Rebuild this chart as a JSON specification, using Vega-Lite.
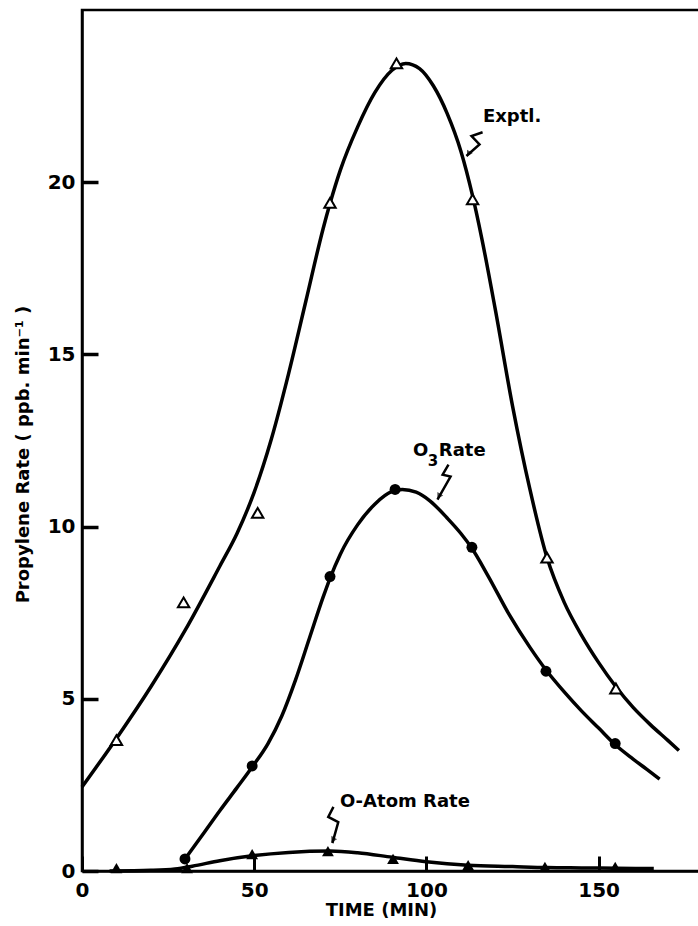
{
  "$schema": "https://vega.github.io/schema/vega-lite/v6.json",
  "width": 620,
  "height": 861,
  "autosize": {"type": "none"},
  "padding": {"left": 82, "top": 10, "right": 0, "bottom": 55},
  "background": "white",
  "config": {
    "view": {"stroke": "black", "strokeWidth": 2.5},
    "font": "DejaVu Sans",
    "axis": {
      "grid": false,
      "domainColor": "black",
      "domainWidth": 2.5,
      "tickColor": "black",
      "tickWidth": 3,
      "labelFont": "DejaVu Sans",
      "labelFontWeight": "bold",
      "labelFontSize": 20,
      "labelColor": "black",
      "labelFlush": false,
      "labelOverlap": false,
      "titleFont": "DejaVu Sans",
      "titleFontWeight": "bold",
      "titleColor": "black"
    }
  },
  "datasets": {
    "curves": [
      {"series": "Exptl", "time": 0, "rate": 2.44},
      {"series": "Exptl", "time": 10, "rate": 3.85},
      {"series": "Exptl", "time": 20, "rate": 5.35},
      {"series": "Exptl", "time": 30, "rate": 7.0},
      {"series": "Exptl", "time": 40, "rate": 8.85},
      {"series": "Exptl", "time": 45, "rate": 9.8},
      {"series": "Exptl", "time": 50, "rate": 11.0},
      {"series": "Exptl", "time": 55, "rate": 12.55},
      {"series": "Exptl", "time": 60, "rate": 14.45},
      {"series": "Exptl", "time": 65, "rate": 16.55},
      {"series": "Exptl", "time": 70, "rate": 18.65},
      {"series": "Exptl", "time": 72, "rate": 19.38},
      {"series": "Exptl", "time": 75, "rate": 20.35},
      {"series": "Exptl", "time": 80, "rate": 21.6},
      {"series": "Exptl", "time": 85, "rate": 22.6},
      {"series": "Exptl", "time": 90, "rate": 23.25},
      {"series": "Exptl", "time": 94, "rate": 23.45},
      {"series": "Exptl", "time": 98, "rate": 23.3},
      {"series": "Exptl", "time": 102, "rate": 22.8},
      {"series": "Exptl", "time": 106, "rate": 22.0},
      {"series": "Exptl", "time": 110, "rate": 20.9},
      {"series": "Exptl", "time": 113.4, "rate": 19.6},
      {"series": "Exptl", "time": 116, "rate": 18.4},
      {"series": "Exptl", "time": 120, "rate": 16.3},
      {"series": "Exptl", "time": 125, "rate": 13.5},
      {"series": "Exptl", "time": 130, "rate": 11.1},
      {"series": "Exptl", "time": 135, "rate": 9.1},
      {"series": "Exptl", "time": 140, "rate": 7.8},
      {"series": "Exptl", "time": 145, "rate": 6.85},
      {"series": "Exptl", "time": 150, "rate": 6.05},
      {"series": "Exptl", "time": 155, "rate": 5.35},
      {"series": "Exptl", "time": 160, "rate": 4.75},
      {"series": "Exptl", "time": 165, "rate": 4.25},
      {"series": "Exptl", "time": 170, "rate": 3.8},
      {"series": "Exptl", "time": 173.3, "rate": 3.5},
      {"series": "O3", "time": 29.9, "rate": 0.35},
      {"series": "O3", "time": 35, "rate": 1.05},
      {"series": "O3", "time": 40, "rate": 1.75},
      {"series": "O3", "time": 45, "rate": 2.42},
      {"series": "O3", "time": 49.4, "rate": 3.02},
      {"series": "O3", "time": 54, "rate": 3.7},
      {"series": "O3", "time": 58, "rate": 4.5},
      {"series": "O3", "time": 62, "rate": 5.55},
      {"series": "O3", "time": 66, "rate": 6.75},
      {"series": "O3", "time": 70, "rate": 7.95},
      {"series": "O3", "time": 72, "rate": 8.5},
      {"series": "O3", "time": 75, "rate": 9.2},
      {"series": "O3", "time": 80, "rate": 10.05},
      {"series": "O3", "time": 85, "rate": 10.65},
      {"series": "O3", "time": 90, "rate": 11.02},
      {"series": "O3", "time": 93, "rate": 11.08},
      {"series": "O3", "time": 97, "rate": 11.0},
      {"series": "O3", "time": 101, "rate": 10.75},
      {"series": "O3", "time": 106, "rate": 10.25},
      {"series": "O3", "time": 110, "rate": 9.8},
      {"series": "O3", "time": 113, "rate": 9.4},
      {"series": "O3", "time": 118, "rate": 8.55},
      {"series": "O3", "time": 124, "rate": 7.45},
      {"series": "O3", "time": 130, "rate": 6.5},
      {"series": "O3", "time": 135, "rate": 5.8},
      {"series": "O3", "time": 140, "rate": 5.2},
      {"series": "O3", "time": 145, "rate": 4.65},
      {"series": "O3", "time": 150, "rate": 4.15},
      {"series": "O3", "time": 155, "rate": 3.65},
      {"series": "O3", "time": 160, "rate": 3.25},
      {"series": "O3", "time": 164, "rate": 2.95},
      {"series": "O3", "time": 167.7, "rate": 2.67},
      {"series": "OAtom", "time": 8, "rate": 0.0},
      {"series": "OAtom", "time": 20, "rate": 0.02},
      {"series": "OAtom", "time": 27, "rate": 0.06},
      {"series": "OAtom", "time": 32, "rate": 0.14},
      {"series": "OAtom", "time": 40, "rate": 0.3},
      {"series": "OAtom", "time": 50, "rate": 0.45},
      {"series": "OAtom", "time": 60, "rate": 0.54},
      {"series": "OAtom", "time": 72, "rate": 0.58},
      {"series": "OAtom", "time": 80, "rate": 0.53},
      {"series": "OAtom", "time": 90, "rate": 0.4},
      {"series": "OAtom", "time": 100, "rate": 0.27},
      {"series": "OAtom", "time": 112, "rate": 0.17},
      {"series": "OAtom", "time": 125, "rate": 0.13},
      {"series": "OAtom", "time": 135, "rate": 0.1},
      {"series": "OAtom", "time": 145, "rate": 0.09},
      {"series": "OAtom", "time": 155, "rate": 0.08},
      {"series": "OAtom", "time": 166, "rate": 0.07}
    ],
    "points": [
      {"series": "Exptl", "time": 10, "rate": 3.8},
      {"series": "Exptl", "time": 29.5, "rate": 7.8},
      {"series": "Exptl", "time": 51, "rate": 10.4},
      {"series": "Exptl", "time": 72, "rate": 19.4},
      {"series": "Exptl", "time": 91.3, "rate": 23.45},
      {"series": "Exptl", "time": 113.4, "rate": 19.5},
      {"series": "Exptl", "time": 135, "rate": 9.1},
      {"series": "Exptl", "time": 155, "rate": 5.3},
      {"series": "O3", "time": 29.9, "rate": 0.35},
      {"series": "O3", "time": 49.4, "rate": 3.05},
      {"series": "O3", "time": 72, "rate": 8.55},
      {"series": "O3", "time": 90.9, "rate": 11.08},
      {"series": "O3", "time": 113.2, "rate": 9.4},
      {"series": "O3", "time": 134.7, "rate": 5.8},
      {"series": "O3", "time": 154.8, "rate": 3.7},
      {"series": "OAtom", "time": 10, "rate": 0.08},
      {"series": "OAtom", "time": 30.5, "rate": 0.08},
      {"series": "OAtom", "time": 49.4, "rate": 0.49},
      {"series": "OAtom", "time": 71.4, "rate": 0.58},
      {"series": "OAtom", "time": 90.3, "rate": 0.35},
      {"series": "OAtom", "time": 112.1, "rate": 0.17},
      {"series": "OAtom", "time": 134.4, "rate": 0.12},
      {"series": "OAtom", "time": 154.8, "rate": 0.12}
    ],
    "squiggles": [
      {"id": "Exptl", "seq": 1, "time": 116.3, "rate": 21.45},
      {"id": "Exptl", "seq": 2, "time": 113.1, "rate": 21.34},
      {"id": "Exptl", "seq": 3, "time": 115.4, "rate": 21.1},
      {"id": "Exptl", "seq": 4, "time": 111.6, "rate": 20.76},
      {"id": "O3", "seq": 1, "time": 106.4, "rate": 11.8},
      {"id": "O3", "seq": 2, "time": 104.7, "rate": 11.51},
      {"id": "O3", "seq": 3, "time": 107.0, "rate": 11.45},
      {"id": "O3", "seq": 4, "time": 103.2, "rate": 10.78},
      {"id": "OAtom", "seq": 1, "time": 73.0, "rate": 1.86},
      {"id": "OAtom", "seq": 2, "time": 71.5, "rate": 1.57},
      {"id": "OAtom", "seq": 3, "time": 74.4, "rate": 1.42},
      {"id": "OAtom", "seq": 4, "time": 72.7, "rate": 0.81}
    ],
    "tips": [
      {"id": "Exptl", "time": 112.2, "rate": 20.82},
      {"id": "O3", "time": 103.6, "rate": 10.88},
      {"id": "OAtom", "time": 72.8, "rate": 0.9}
    ],
    "labels": [
      {"text": "Exptl.", "time": 116.4, "rate": 21.9},
      {"text": "O", "time": 96.1, "rate": 12.2},
      {"text": "Rate", "time": 103.6, "rate": 12.2},
      {"text": "O-Atom Rate", "time": 74.9, "rate": 2.0}
    ],
    "subscripts": [
      {"text": "3", "time": 100.4, "rate": 11.9}
    ]
  },
  "layer": [
    {
      "data": {"name": "curves"},
      "mark": {"type": "line", "interpolate": "monotone", "color": "black", "strokeWidth": 3.5},
      "encoding": {
        "x": {
          "field": "time", "type": "quantitative",
          "scale": {"domain": [0, 180], "nice": false, "zero": false},
          "axis": {
            "values": [0, 50, 100, 150],
            "title": "TIME (MIN)",
            "ticks": true,
            "tickSize": -15,
            "labelPadding": 40,
            "labelBaseline": "alphabetic",
            "titleFontSize": 18,
            "titleX": 299,
            "titleY": 44,
            "titleBaseline": "alphabetic",
            "zindex": 2
          }
        },
        "y": {
          "field": "rate", "type": "quantitative",
          "scale": {"domain": [0, 25], "nice": false, "zero": false},
          "axis": {
            "values": [0, 5, 10, 15, 20],
            "title": "Propylene Rate ( ppb. min⁻¹ )",
            "ticks": true,
            "tickSize": -16,
            "tickWidth": 3.5,
            "tickColor": "black",
            "tickOpacity": 1,
            "labelPadding": 23,
            "labelBaseline": "middle",
            "titleFontSize": 18,
            "titleX": -50,
            "titleY": 444,
            "titleBaseline": "bottom",
            "zindex": 2
          }
        },
        "detail": {"field": "series"}
      }
    },
    {
      "data": {"name": "squiggles"},
      "mark": {"type": "line", "color": "black", "strokeWidth": 2.5},
      "encoding": {
        "x": {"field": "time", "type": "quantitative"},
        "y": {"field": "rate", "type": "quantitative"},
        "detail": {"field": "id"},
        "order": {"field": "seq"}
      }
    },
    {
      "data": {"name": "tips"},
      "mark": {"type": "point", "shape": "triangle-down", "angle": 30, "filled": true, "color": "black", "size": 45},
      "encoding": {
        "x": {"field": "time", "type": "quantitative"},
        "y": {"field": "rate", "type": "quantitative"}
      }
    },
    {
      "data": {"name": "points"},
      "transform": [{"filter": "datum.series === 'Exptl'"}],
      "mark": {"type": "point", "shape": "triangle-up", "filled": true, "fill": "white", "stroke": "black", "strokeWidth": 2, "size": 130, "opacity": 1},
      "encoding": {
        "x": {"field": "time", "type": "quantitative"},
        "y": {"field": "rate", "type": "quantitative"}
      }
    },
    {
      "data": {"name": "points"},
      "transform": [{"filter": "datum.series === 'O3'"}],
      "mark": {"type": "point", "shape": "circle", "filled": true, "color": "black", "size": 120, "opacity": 1},
      "encoding": {
        "x": {"field": "time", "type": "quantitative"},
        "y": {"field": "rate", "type": "quantitative"}
      }
    },
    {
      "data": {"name": "points"},
      "transform": [{"filter": "datum.series === 'OAtom'"}],
      "mark": {"type": "point", "shape": "triangle-up", "filled": true, "color": "black", "size": 140, "opacity": 1},
      "encoding": {
        "x": {"field": "time", "type": "quantitative"},
        "y": {"field": "rate", "type": "quantitative"}
      }
    },
    {
      "data": {"name": "labels"},
      "mark": {"type": "text", "align": "left", "baseline": "middle", "font": "DejaVu Sans", "fontWeight": "bold", "fontSize": 18, "color": "black"},
      "encoding": {
        "x": {"field": "time", "type": "quantitative"},
        "y": {"field": "rate", "type": "quantitative"},
        "text": {"field": "text"}
      }
    },
    {
      "data": {"name": "subscripts"},
      "mark": {"type": "text", "align": "left", "baseline": "middle", "font": "DejaVu Sans", "fontWeight": "bold", "fontSize": 15, "color": "black"},
      "encoding": {
        "x": {"field": "time", "type": "quantitative"},
        "y": {"field": "rate", "type": "quantitative"},
        "text": {"field": "text"}
      }
    }
  ]
}
